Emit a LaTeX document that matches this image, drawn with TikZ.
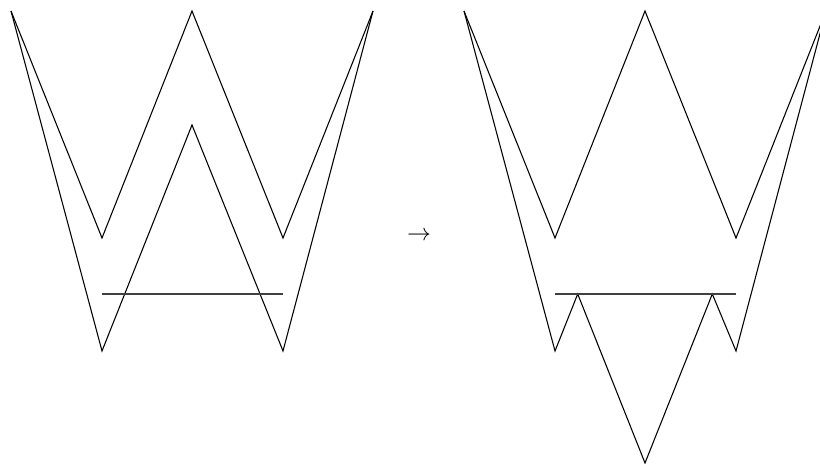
\documentclass[tikz,border=0pt]{standalone}
\begin{document}
\begin{tikzpicture}[x=0.42pt,y=-0.42pt,line join=miter,
  fig/.style={draw=black,line width=0.45pt},
  cut/.style={draw=black!75,line width=0.5pt}]
\useasboundingbox (0,0) rectangle (820,464);
\clip (0,0) rectangle (820,464);
% left figure
\draw[fig] (11,11) -- (102,238) -- (192,11) -- (283,238) -- (373,11);
\draw[fig] (11,11) -- (102,351) -- (192,125) -- (283,351) -- (373,11);
\draw[cut] (102,294) -- (283,294);
% arrow
\node (arr) at (419,236) {$\to$};
% right figure
\begin{scope}[xshift=453*0.42pt]
\draw[fig] (11,11) -- (102,238) -- (192,11) -- (283,238) -- (373,11);
\draw[fig] (11,11) -- (102,351) -- (124.7,294) -- (192,463) -- (259.3,294) -- (283,351) -- (373,11);
\draw[cut] (102,294) -- (283,294);
\end{scope}
\end{tikzpicture}
\end{document}
